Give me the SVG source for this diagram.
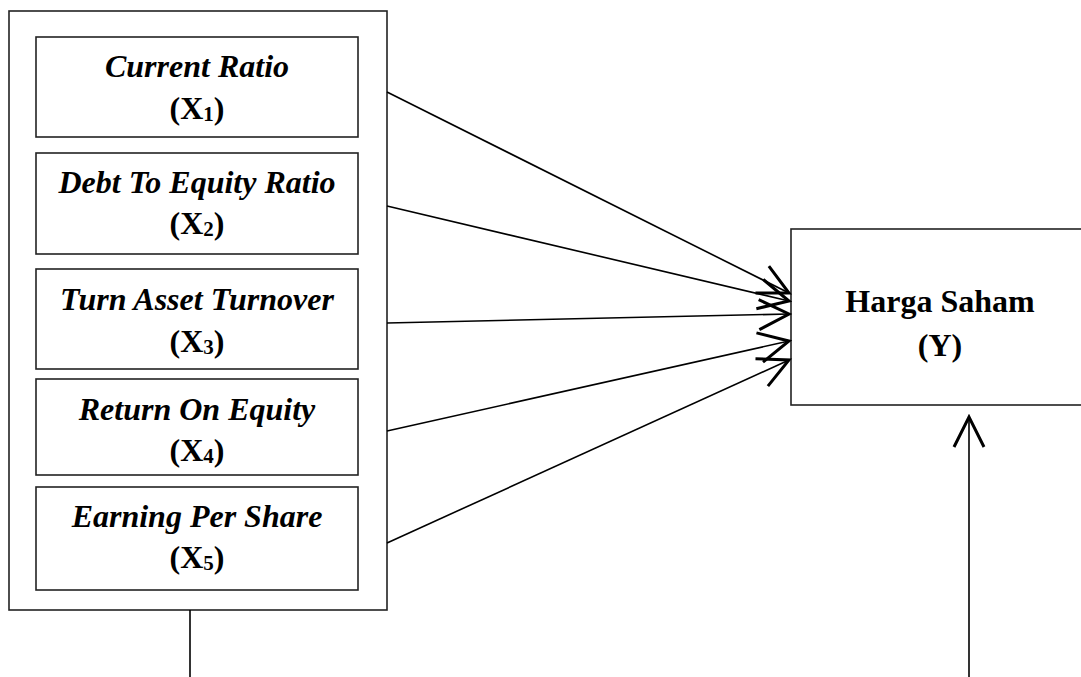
<svg xmlns="http://www.w3.org/2000/svg" width="1081" height="677" viewBox="0 0 1081 677">
<style>
.box{fill:#fff;stroke:#222;stroke-width:1.6}
.t1{font-family:"Liberation Serif","Times New Roman",serif;font-size:32px;font-weight:bold;font-style:italic;text-anchor:middle;fill:#000}
.t2{font-family:"Liberation Serif","Times New Roman",serif;font-size:32px;font-weight:bold;text-anchor:middle;fill:#000}
.sub{font-size:21px}
.line{stroke:#000;stroke-width:1.6;fill:none}
</style>
<defs>
<marker id="arr" markerUnits="userSpaceOnUse" markerWidth="40" markerHeight="40" viewBox="-22 -12 24 24" refX="0" refY="0" orient="auto">
<path d="M-18,-9 L0,0 L-18,9" fill="none" stroke="#000" stroke-width="1.8"/>
</marker>
</defs>
<rect width="1081" height="677" fill="#fff"/>
<g id="group-x">
<rect class="box" x="9" y="11" width="378" height="599"/>
</g>
<g id="x1">
<rect class="box" x="36" y="37" width="322" height="100"/>
<text class="t1" x="197" y="77">Current Ratio</text>
<text class="t2" x="197" y="119">(X<tspan class="sub" dy="2">1</tspan><tspan dy="-2">)</tspan></text>
</g>
<g id="x2">
<rect class="box" x="36" y="153" width="322" height="101"/>
<text class="t1" x="197" y="193">Debt To Equity Ratio</text>
<text class="t2" x="197" y="234">(X<tspan class="sub" dy="2">2</tspan><tspan dy="-2">)</tspan></text>
</g>
<g id="x3">
<rect class="box" x="36" y="269" width="322" height="100"/>
<text class="t1" x="197" y="310">Turn Asset Turnover</text>
<text class="t2" x="197" y="352">(X<tspan class="sub" dy="2">3</tspan><tspan dy="-2">)</tspan></text>
</g>
<g id="x4">
<rect class="box" x="36" y="379" width="322" height="96"/>
<text class="t1" x="197" y="420">Return On Equity</text>
<text class="t2" x="197" y="461">(X<tspan class="sub" dy="2">4</tspan><tspan dy="-2">)</tspan></text>
</g>
<g id="x5">
<rect class="box" x="36" y="487" width="322" height="103"/>
<text class="t1" x="197" y="527">Earning Per Share</text>
<text class="t2" x="197" y="568">(X<tspan class="sub" dy="2">5</tspan><tspan dy="-2">)</tspan></text>
</g>
<g id="y">
<rect class="box" x="791" y="229" width="300" height="176"/>
<text class="t2" x="940" y="312">Harga Saham</text>
<text class="t2" x="940" y="356">(Y)</text>
</g>
<g id="connectors">
<line class="line" x1="387" y1="92" x2="789" y2="293" marker-end="url(#arr)"/>
<line class="line" x1="387" y1="206" x2="789" y2="301" marker-end="url(#arr)"/>
<line class="line" x1="387" y1="323" x2="789" y2="314" marker-end="url(#arr)"/>
<line class="line" x1="387" y1="431" x2="789" y2="341" marker-end="url(#arr)"/>
<line class="line" x1="387" y1="543" x2="789" y2="360" marker-end="url(#arr)"/>
<line class="line" x1="190" y1="610" x2="190" y2="677"/>
<line class="line" x1="969" y1="677" x2="969" y2="417" marker-end="url(#arr)"/>
</g>
</svg>
